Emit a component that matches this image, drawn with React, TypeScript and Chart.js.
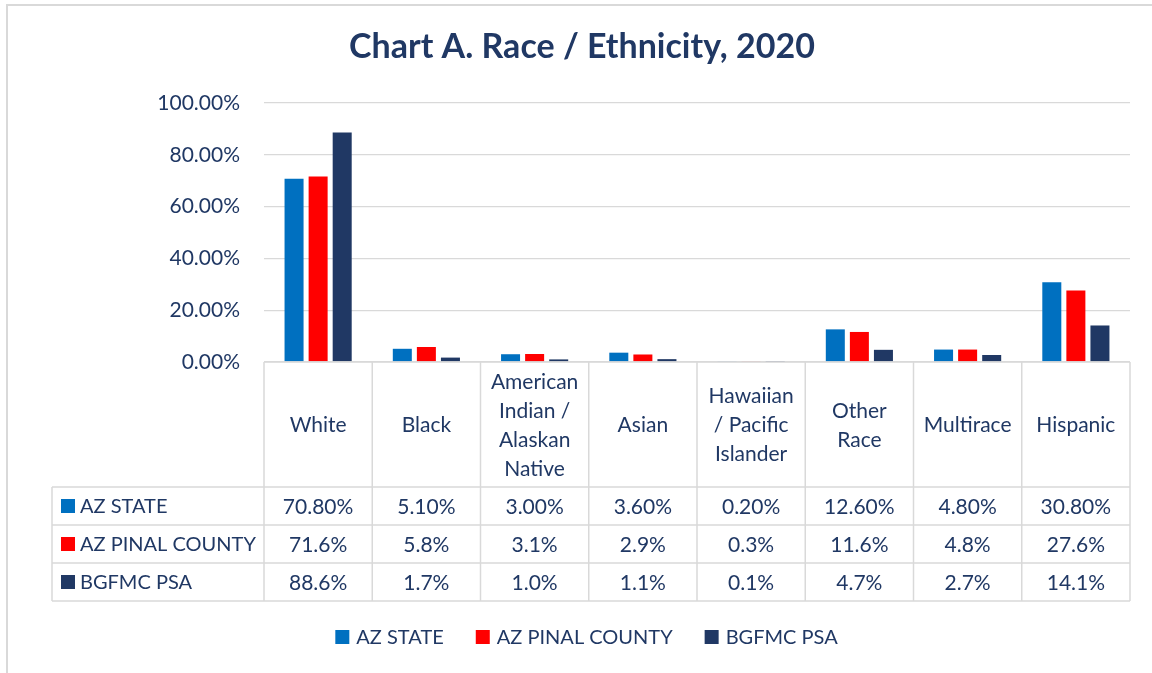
import React, { useEffect, useRef } from "react";
import { Chart, registerables } from "chart.js";

Chart.register(...registerables);

const chartTitle = "Chart A. Race / Ethnicity, 2020";
const categories = [
  "White",
  "Black",
  "American Indian / Alaskan Native",
  "Asian",
  "Hawaiian / Pacific Islander",
  "Other Race",
  "Multirace",
  "Hispanic",
];
const categoryLines = [
  ["White"],
  ["Black"],
  ["American", "Indian /", "Alaskan", "Native"],
  ["Asian"],
  ["Hawaiian", "/ Pacific", "Islander"],
  ["Other", "Race"],
  ["Multirace"],
  ["Hispanic"],
];
const seriesNames = ["AZ STATE", "AZ PINAL COUNTY", "BGFMC PSA"];
const azState = [70.8, 5.1, 3.0, 3.6, 0.2, 12.6, 4.8, 30.8];
const azPinal = [71.6, 5.8, 3.1, 2.9, 0.3, 11.6, 4.8, 27.6];
const bgfmcPsa = [88.6, 1.7, 1.0, 1.1, 0.1, 4.7, 2.7, 14.1];
const seriesDecimals = [2, 1, 1];
const yTicks = [0, 20, 40, 60, 80, 100];
const yTickLabels = ["0.00%", "20.00%", "40.00%", "60.00%", "80.00%", "100.00%"];

const seriesColors = ["#0070C0", "#FF0000", "#203864"];
const TEXT = "#203864";
const LINE = "#D9D9D9";
const FONT = "Lato";

const seriesValues = [azState, azPinal, bgfmcPsa];

const excelPlugin = {
  id: "excelTable",
  beforeDraw(chart: any) {
    const { ctx, width, height } = chart;
    ctx.save();
    ctx.fillStyle = "#FFFFFF";
    ctx.fillRect(0, 0, width, height);
    ctx.strokeStyle = LINE;
    ctx.lineWidth = 2;
    ctx.beginPath();
    ctx.moveTo(width + 5, 5);
    ctx.lineTo(7, 5);
    ctx.lineTo(7, height + 5);
    ctx.stroke();
    ctx.fillStyle = TEXT;
    ctx.font = `bold 34px ${FONT}`;
    ctx.textAlign = "center";
    ctx.textBaseline = "middle";
    ctx.fillText(chartTitle, 582, 47);
    ctx.restore();
  },
  afterDraw(chart: any) {
    const { ctx, chartArea } = chart;
    const x = chart.scales.x;
    const n = categories.length;
    const half = (x.getPixelForValue(1) - x.getPixelForValue(0)) / 2;
    const top = chartArea.bottom;
    const headerH = 125;
    const rowH = 38;
    const tableLeft = 52;
    const rowTop = top + headerH;
    const bottom = rowTop + rowH * seriesNames.length;
    const lastRight = x.getPixelForValue(n - 1) + half;
    const firstLeft = x.getPixelForValue(0) - half;

    ctx.save();
    ctx.strokeStyle = LINE;
    ctx.lineWidth = 1.5;
    ctx.beginPath();
    ctx.moveTo(firstLeft, top);
    ctx.lineTo(lastRight, top);
    for (let r = 0; r <= seriesNames.length; r++) {
      const yy = rowTop + r * rowH;
      ctx.moveTo(tableLeft, yy);
      ctx.lineTo(lastRight, yy);
    }
    for (let i = 0; i <= n; i++) {
      const xx = i < n ? x.getPixelForValue(i) - half : lastRight;
      ctx.moveTo(xx, top);
      ctx.lineTo(xx, bottom);
    }
    ctx.moveTo(tableLeft, rowTop);
    ctx.lineTo(tableLeft, bottom);
    ctx.stroke();

    ctx.fillStyle = TEXT;
    ctx.font = `21px ${FONT}`;
    ctx.textAlign = "center";
    ctx.textBaseline = "middle";
    const lh = 29;
    const headerMid = top + headerH / 2;
    categoryLines.forEach((lines, i) => {
      const cx = x.getPixelForValue(i);
      const start = headerMid - ((lines.length - 1) * lh) / 2;
      lines.forEach((ln, j) => ctx.fillText(ln, cx, start + j * lh + 1));
    });

    seriesNames.forEach((name, r) => {
      const cy = rowTop + r * rowH + rowH / 2;
      ctx.fillStyle = seriesColors[r];
      ctx.fillRect(61, cy - 7, 14, 14);
      ctx.fillStyle = TEXT;
      ctx.textAlign = "left";
      ctx.font = `20px ${FONT}`;
      ctx.fillText(name, 80, cy + 1);
      ctx.textAlign = "center";
      ctx.font = `21px ${FONT}`;
      seriesValues[r].forEach((v, i) => {
        ctx.fillText(v.toFixed(seriesDecimals[r]) + "%", x.getPixelForValue(i), cy + 1);
      });
    });

    // legend
    ctx.font = `20px ${FONT}`;
    const box = 14;
    const gapText = 7;
    const gapItem = 32;
    const widths = seriesNames.map((s) => box + gapText + ctx.measureText(s).width);
    const total = widths.reduce((a, b) => a + b, 0) + gapItem * (widths.length - 1);
    let lx = 586.5 - total / 2;
    const ly = 637;
    seriesNames.forEach((name, r) => {
      ctx.fillStyle = seriesColors[r];
      ctx.fillRect(lx, ly - 7, box, box);
      ctx.fillStyle = TEXT;
      ctx.textAlign = "left";
      ctx.fillText(name, lx + box + gapText, ly + 1);
      lx += widths[r] + gapItem;
    });
    ctx.restore();
  },
};

export default function App() {
  const canvasRef = useRef<HTMLCanvasElement | null>(null);

  useEffect(() => {
    document.body.style.margin = "0";
    const canvas = canvasRef.current;
    if (!canvas) return;
    const chart = new Chart(canvas, {
      type: "bar",
      data: {
        labels: categories,
        datasets: seriesNames.map((name, i) => ({
          label: name,
          data: seriesValues[i],
          backgroundColor: seriesColors[i],
          borderWidth: 0,
          barPercentage: 0.79,
          categoryPercentage: 0.667,
        })),
      },
      options: {
        animation: false,
        responsive: false,
        devicePixelRatio: 1,
        layout: { padding: { top: 103, right: 22, bottom: 311, left: 0 } },
        plugins: {
          legend: { display: false },
          title: { display: false },
          tooltip: { enabled: false },
        },
        scales: {
          x: { display: false },
          y: {
            min: 0,
            max: 100,
            afterBuildTicks: (s: any) => {
              s.ticks = yTicks.map((v) => ({ value: v }));
            },
            afterFit: (s: any) => {
              s.width = 264;
            },
            ticks: {
              callback: (v: any) => yTickLabels[yTicks.indexOf(Number(v))],
              color: TEXT,
              font: { family: FONT, size: 21 },
              padding: 24,
            },
            grid: { color: LINE, lineWidth: 1.3, drawTicks: false },
            border: { display: false },
          },
        },
      },
      plugins: [excelPlugin],
    });
    return () => chart.destroy();
  }, []);

  return (
    <div style={{ width: 1152, height: 673 }}>
      <canvas ref={canvasRef} width={1152} height={673} style={{ display: "block" }} />
    </div>
  );
}
